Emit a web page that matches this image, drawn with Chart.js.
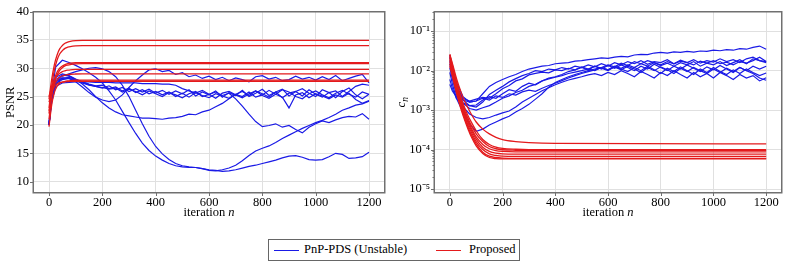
<!DOCTYPE html>
<html>
<head>
<meta charset="utf-8">
<script src="https://cdn.jsdelivr.net/npm/chart.js@4.4.0/dist/chart.umd.min.js"></script>
<style>
  body { margin:0; background:#fff; width:789px; height:265px; position:relative; overflow:hidden; font-family:"Liberation Serif", serif; color:#000; }
  #c1 { position:absolute; left:0; top:0; }
  #c2 { position:absolute; left:395px; top:0; }
  #legend { position:absolute; left:268px; top:239px; width:250px; height:20px; border:1px solid #666; font-size:12.5px; }
  #legend span { position:absolute; top:2px; white-space:nowrap; }
  #legend i { position:absolute; top:10px; width:25px; height:0; border-top:1.3px solid; }
</style>
</head>
<body>
<canvas id="c1" width="395" height="230"></canvas>
<canvas id="c2" width="394" height="230"></canvas>
<div id="legend">
  <i style="left:5px;border-color:#1a1ae6"></i><span style="left:35px">PnP-PDS (Unstable)</span>
  <i style="left:167px;border-color:#e41a1c"></i><span style="left:200px">Proposed</span>
</div>
<script>
// iteration grids
const iterN = [0,10,25,50,75,100,125,150,175,200,225,250,275,300,325,350,375,400,425,450,475,500,525,550,575,600,625,650,675,700,725,750,775,800,825,850,875,900,925,950,975,1000,1025,1050,1075,1100,1125,1150,1175,1200];
const iterRed = [0,10,20,30,40,50,60,70,80,100,125,150,175,200,250,300,400,1200];
const xTicks = [0,200,400,600,800,1000,1200];
const psnrTicks = [10,15,20,25,30,35,40];
const cnTicks = [1e-5,1e-4,1e-3,1e-2,1e-1];
const cnLabels = ['10⁻⁵','10⁻⁴','10⁻³','10⁻²','10⁻¹'];

// PSNR, PnP-PDS (unstable)
const psnrPnp = [
  [20,25.5,30.2,31.4,31.0,30.5,29.9,29.2,28.4,27.4,26.0,24.4,22.4,20.4,18.5,16.8,15.5,14.5,13.8,13.2,12.8,12.6,12.5,12.5,12.3,12.0,11.9,12.1,12.4,12.9,13.7,14.6,15.4,15.9,16.3,16.9,17.6,18.2,18.8,19.4,19.9,20.4,20.8,21.3,21.9,22.6,23.0,23.5,23.7,24.2],
  [20,24.5,27.5,28.6,29.0,29.4,29.7,30.0,30.1,29.9,29.4,28.5,27.0,25.0,22.6,20.2,18.0,16.2,14.9,13.9,13.2,12.8,12.6,12.5,12.3,12.1,12.0,11.8,11.9,12.1,12.4,12.7,12.9,13.2,13.5,13.8,14.2,14.5,14.6,14.3,13.9,13.8,13.9,14.4,15.0,14.8,14.1,14.2,14.4,15.2],
  [20,25,27.6,28.3,28.2,27.6,26.7,25.7,24.9,24.4,24.1,24.4,25.3,26.6,27.8,28.8,29.7,29.9,29.4,29.6,28.9,29.2,28.5,28.8,28.2,28.6,28.0,28.4,27.8,28.3,28.0,27.6,28.5,28.7,28.1,28.4,27.8,28.0,28.6,28.1,28.4,27.9,28.5,28.0,28.7,27.8,28.2,28.6,28.9,27.4],
  [20,24.8,27.3,28.2,28.4,28.0,27.2,26.2,25.0,23.9,23.0,22.3,21.8,21.6,21.4,21.2,21.2,21.1,21.0,21.2,21.3,21.5,21.9,21.8,22.3,22.6,23.2,23.8,24.6,25.4,25.9,25.2,26.0,25.5,24.9,25.8,26.3,25.1,25.9,26.4,25.6,25.0,26.2,25.7,24.8,25.9,26.5,25.3,24.6,25.4],
  [20,24,26.8,27.4,27.5,27.6,27.6,27.6,27.5,27.5,27.5,27.4,27.4,27.4,27.4,27.3,27.3,27.3,27.2,27.2,27.0,26.4,26.0,25.6,26.1,25.4,25.8,25.2,25.6,24.6,23.3,21.9,20.6,19.7,19.9,20.2,19.6,19.9,19.2,18.6,19.6,20.2,20.7,20.4,20.9,21.3,21.5,21.4,22.0,21.0],
  [20,25.2,28.0,28.8,28.6,28.0,27.4,27.0,26.8,26.5,26.9,26.2,26.6,25.9,26.4,25.8,26.3,25.6,26.1,25.4,26.0,25.5,26.2,25.1,25.8,25.3,26.0,24.9,25.7,25.2,26.1,25.0,25.6,26.3,25.2,25.8,24.8,25.6,25.9,25.1,26.2,25.4,24.9,25.7,26.0,25.0,25.9,26.8,27.2,27.0],
  [20,25.8,28.4,29.0,28.7,28.1,27.6,27.2,26.9,27.0,26.4,26.7,26.0,26.5,25.7,26.2,25.5,25.9,25.3,25.8,25.0,25.6,24.9,25.7,25.2,24.8,25.5,25.1,24.7,25.4,25.0,25.8,24.9,25.3,26.1,25.4,24.9,23.0,25.3,25.7,24.8,25.5,25.1,24.6,25.3,24.9,25.6,24.5,23.8,24.3],
  [20,24.6,27.2,28.0,28.2,27.9,27.5,27.1,26.8,26.6,26.3,26.5,25.8,26.3,25.9,25.3,26.0,25.5,25.0,25.7,25.3,24.8,25.5,25.9,25.0,25.4,24.7,25.6,25.9,25.3,24.8,25.5,26.0,25.2,24.7,25.4,26.2,25.8,25.0,24.6,25.5,26.0,25.3,24.8,25.6,26.1,25.4,24.9,25.8,25.4]
];

// PSNR, proposed
const psnrProp = [
  [24.5,28.0,30.6,32.3,33.4,34.0,34.4,34.6,34.75,34.87,34.9,34.9,34.9,34.9,34.9,34.9,34.9,34.9],
  [23.0,26.8,29.6,31.4,32.5,33.1,33.5,33.7,33.82,33.95,34.0,34.0,34.0,34.0,34.0,34.0,34.0,34.0],
  [22.0,25.8,28.0,29.3,30.0,30.4,30.65,30.8,30.88,30.96,31.0,31.0,31.0,31.0,31.0,31.0,31.0,31.0],
  [21.0,25.0,27.4,28.8,29.6,30.1,30.4,30.55,30.65,30.75,30.8,30.8,30.8,30.8,30.8,30.8,30.8,30.8],
  [25.0,26.7,27.9,28.7,29.1,29.4,29.55,29.65,29.72,29.78,29.8,29.8,29.8,29.8,29.8,29.8,29.8,29.8],
  [22.5,25.5,27.1,27.9,28.4,28.65,28.8,28.88,28.94,28.98,29.0,29.0,29.0,29.0,29.0,29.0,29.0,29.0],
  [19.7,23.5,25.7,26.8,27.3,27.55,27.7,27.78,27.83,27.88,27.9,27.9,27.9,27.9,27.9,27.9,27.9,27.9],
  [24.0,25.7,26.7,27.2,27.45,27.56,27.62,27.66,27.68,27.7,27.7,27.7,27.7,27.7,27.7,27.7,27.7,27.7]
];

// c_n, PnP-PDS (unstable)
const cnPnp = [
  [2.5e-2,1.2e-2,5e-3,2.2e-3,1.6e-3,1.7e-3,2.6e-3,4e-3,5e-3,6e-3,7e-3,8e-3,9.5e-3,1.1e-2,1.2e-2,1.3e-2,1.35e-2,1.5e-2,1.55e-2,1.6e-2,1.75e-2,1.8e-2,1.9e-2,2.0e-2,2.1e-2,2.05e-2,2.2e-2,2.3e-2,2.25e-2,2.5e-2,2.6e-2,2.55e-2,2.8e-2,2.9e-2,2.8e-2,3.0e-2,2.9e-2,3.1e-2,2.95e-2,3.15e-2,3.1e-2,3.3e-2,3.2e-2,3.4e-2,3.3e-2,3.6e-2,3.5e-2,3.9e-2,4.2e-2,3.5e-2],
  [2.2e-2,1e-2,4e-3,1.8e-3,1.3e-3,1.2e-3,1.6e-3,2.5e-3,3.2e-3,4.0e-3,5.2e-3,6.3e-3,7.5e-3,8.5e-3,1.0e-2,9.5e-3,1.1e-2,1.05e-2,1.2e-2,1.1e-2,1.3e-2,1.2e-2,1.4e-2,1.25e-2,1.5e-2,1.3e-2,1.6e-2,1.4e-2,1.7e-2,1.5e-2,1.8e-2,1.45e-2,1.7e-2,1.6e-2,1.9e-2,1.5e-2,1.75e-2,1.6e-2,1.9e-2,1.55e-2,1.8e-2,1.65e-2,2.0e-2,1.7e-2,1.9e-2,1.6e-2,2.0e-2,2.2e-2,1.8e-2,1.6e-2],
  [1.8e-2,9e-3,4e-3,2e-3,1.7e-3,1.9e-3,2.1e-3,2.0e-3,2.6e-3,3.5e-3,4.2e-3,5.5e-3,6.2e-3,7.8e-3,8.5e-3,9.2e-3,8.8e-3,1.05e-2,1.0e-2,1.15e-2,1.05e-2,1.25e-2,1.1e-2,1.3e-2,1.1e-2,1.35e-2,1.15e-2,1.4e-2,1.2e-2,1.0e-2,1.3e-2,1.1e-2,1.45e-2,1.2e-2,1.0e-2,1.3e-2,1.1e-2,1.4e-2,1.15e-2,9.5e-3,1.25e-2,1.05e-2,1.35e-2,1.1e-2,9e-3,1.2e-2,1.0e-2,1.3e-2,1.1e-2,1.3e-2],
  [1.5e-2,7e-3,3e-3,1.5e-3,1.1e-3,1.0e-3,1.15e-3,1.3e-3,1.6e-3,2.0e-3,2.3e-3,2.8e-3,3.2e-3,4.0e-3,4.5e-3,5.5e-3,6.2e-3,6.8e-3,7.5e-3,8.5e-3,9.2e-3,1.0e-2,1.1e-2,1.0e-2,1.2e-2,1.05e-2,1.25e-2,1.1e-2,9.5e-3,1.2e-2,1.0e-2,1.3e-2,1.05e-2,8.5e-3,1.15e-2,9.5e-3,1.25e-2,1.0e-2,8e-3,1.1e-2,9e-3,1.2e-2,9.5e-3,8e-3,1.05e-2,8.5e-3,1.1e-2,9e-3,7.5e-3,8.7e-3],
  [1.2e-2,6e-3,2.5e-3,1.2e-3,8e-4,6.5e-4,6e-4,6.5e-4,7.5e-4,8.5e-4,9.5e-4,1.2e-3,1.6e-3,2.0e-3,2.5e-3,3.1e-3,3.7e-3,4.4e-3,5.1e-3,5.8e-3,6.4e-3,7e-3,7.8e-3,8.4e-3,7.5e-3,9e-3,8e-3,1.0e-2,8.5e-3,7e-3,9.5e-3,8e-3,6.5e-3,9e-3,7.5e-3,1.0e-2,8e-3,6.5e-3,9e-3,7e-3,8.5e-3,6.5e-3,9e-3,7.5e-3,6e-3,8e-3,6.5e-3,7.5e-3,5.5e-3,6.6e-3],
  [9e-3,4.5e-3,2e-3,9e-4,4.5e-4,2.9e-4,3.3e-4,4.2e-4,5e-4,6e-4,7e-4,9e-4,1.1e-3,1.4e-3,1.9e-3,2.6e-3,3.8e-3,5e-3,6e-3,7e-3,8e-3,9e-3,1.0e-2,1.1e-2,1.2e-2,1.05e-2,1.3e-2,1.15e-2,1.4e-2,1.2e-2,1.5e-2,1.3e-2,1.6e-2,1.35e-2,1.55e-2,1.3e-2,1.6e-2,1.4e-2,1.7e-2,1.3e-2,1.55e-2,1.4e-2,1.7e-2,1.35e-2,1.6e-2,1.9e-2,1.5e-2,2.0e-2,1.8e-2,1.7e-2],
  [6e-3,3.5e-3,2e-3,1.5e-3,1.3e-3,1.35e-3,1.8e-3,2.2e-3,2.0e-3,2.6e-3,3.3e-3,3.0e-3,4.0e-3,4.8e-3,4.4e-3,5.5e-3,6.5e-3,7.0e-3,8e-3,9.5e-3,1.05e-2,1.2e-2,1.05e-2,1.3e-2,1.15e-2,1.0e-2,1.25e-2,1.05e-2,1.3e-2,1.1e-2,9e-3,1.2e-2,1.0e-2,1.25e-2,1.05e-2,8.5e-3,1.15e-2,9.5e-3,1.2e-2,1.0e-2,8.5e-3,1.1e-2,9e-3,1.15e-2,9.5e-3,1.2e-2,1.0e-2,8.5e-3,6.5e-3,5.7e-3],
  [4.5e-3,3e-3,2.2e-3,1.8e-3,1.6e-3,1.7e-3,2.0e-3,1.8e-3,2.3e-3,2.1e-3,2.6e-3,2.4e-3,2.9e-3,3.2e-3,3.0e-3,3.6e-3,4.2e-3,4.8e-3,5.6e-3,6.5e-3,7.5e-3,8.5e-3,9.5e-3,1.05e-2,1.2e-2,1.4e-2,1.25e-2,1.55e-2,1.35e-2,1.7e-2,1.5e-2,1.8e-2,1.6e-2,1.4e-2,1.7e-2,1.5e-2,1.85e-2,1.6e-2,1.4e-2,1.75e-2,1.55e-2,1.8e-2,1.5e-2,1.65e-2,1.4e-2,1.7e-2,1.55e-2,1.8e-2,2.2e-2,1.7e-2]
];

// c_n, proposed
const cnProp = [
  [2.6e-2,1.5e-2,8.5e-3,5e-3,3.2e-3,2.1e-3,1.5e-3,1.1e-3,8.2e-4,5e-4,3.3e-4,2.5e-4,2.05e-4,1.8e-4,1.6e-4,1.5e-4,1.43e-4,1.4e-4],
  [2.5e-2,1.35e-2,7.2e-3,4e-3,2.4e-3,1.5e-3,1e-3,7e-4,5.2e-4,3e-4,1.8e-4,1.35e-4,1.15e-4,1.07e-4,1.02e-4,1.0e-4,1.0e-4,1.0e-4],
  [2.3e-2,1.2e-2,6.5e-3,3.6e-3,2.1e-3,1.3e-3,8.5e-4,6e-4,4.3e-4,2.5e-4,1.6e-4,1.2e-4,1.05e-4,9.9e-5,9.6e-5,9.5e-5,9.5e-5,9.5e-5],
  [2.1e-2,1.1e-2,5.8e-3,3.2e-3,1.9e-3,1.15e-3,7.5e-4,5.2e-4,3.7e-4,2.1e-4,1.35e-4,1.05e-4,9.4e-5,9e-5,8.8e-5,8.8e-5,8.8e-5,8.8e-5],
  [1.9e-2,1e-2,5.2e-3,2.9e-3,1.7e-3,1.05e-3,6.8e-4,4.6e-4,3.3e-4,1.85e-4,1.15e-4,9e-5,8.1e-5,7.8e-5,7.7e-5,7.7e-5,7.7e-5,7.7e-5],
  [1.7e-2,9e-3,4.7e-3,2.6e-3,1.5e-3,9.2e-4,6e-4,4e-4,2.9e-4,1.6e-4,1e-4,7.8e-5,7.1e-5,6.8e-5,6.7e-5,6.7e-5,6.7e-5,6.7e-5],
  [1.5e-2,8e-3,4.2e-3,2.3e-3,1.35e-3,8.2e-4,5.3e-4,3.6e-4,2.5e-4,1.4e-4,8.6e-5,6.8e-5,6.3e-5,6.1e-5,6e-5,6e-5,6e-5,6e-5],
  [1.3e-2,7e-3,3.7e-3,2.1e-3,1.2e-3,7.4e-4,4.8e-4,3.2e-4,2.2e-4,1.25e-4,8e-5,6.3e-5,5.9e-5,5.8e-5,5.8e-5,5.8e-5,5.8e-5,5.8e-5]
];

// minor ticks on the log axis
const cnMinor = [2e-5,3e-5,4e-5,5e-5,6e-5,7e-5,8e-5,9e-5,2e-4,3e-4,4e-4,5e-4,6e-4,7e-4,8e-4,9e-4,2e-3,3e-3,4e-3,5e-3,6e-3,7e-3,8e-3,9e-3,2e-2,3e-2,4e-2,5e-2,6e-2,7e-2,8e-2,9e-2,2e-1,3e-1];

const FONT = '"Liberation Serif", "Times New Roman", serif';
const FSIZE = 12.5;
const BLUE = '#1a1ae6';
const RED = '#e41a1c';
const GRID = '#e0e0e0';

function toPts(xs, ys) {
  return xs.map((x, i) => ({ x: x, y: ys[i] }));
}

function makeSets(blueRows, redRows) {
  // red first so it is drawn on top
  const sets = [];
  redRows.forEach(r => sets.push({ data: toPts(iterRed, r), borderColor: RED, borderWidth: 1.3, pointRadius: 0, cubicInterpolationMode: 'monotone' }));
  blueRows.forEach(r => sets.push({ data: toPts(iterN, r), borderColor: BLUE, borderWidth: 1.2, pointRadius: 0, tension: 0 }));
  return sets;
}

// frame, outward tick marks and the mixed-style axis titles
const framePlugin = {
  id: 'frame',
  afterDraw(chart, args, opts) {
    const a = chart.chartArea, ctx = chart.ctx;
    const sx = chart.scales.x, sy = chart.scales.y;
    ctx.save();
    ctx.strokeStyle = '#707070';
    ctx.lineWidth = 1;
    ctx.beginPath();
    sx.ticks.forEach(t => {
      const px = Math.round(sx.getPixelForValue(t.value)) + 0.5;
      ctx.moveTo(px, a.bottom); ctx.lineTo(px, a.bottom + 3);
    });
    sy.ticks.forEach(t => {
      const py = Math.round(sy.getPixelForValue(t.value)) + 0.5;
      ctx.moveTo(a.left, py); ctx.lineTo(a.left - 3, py);
    });
    if (opts.cn) {
      cnMinor.forEach(v => {
        const py = Math.round(sy.getPixelForValue(v)) + 0.5;
        if (py > a.top && py < a.bottom) { ctx.moveTo(a.left, py); ctx.lineTo(a.left - 1.5, py); }
      });
    }
    ctx.stroke();
    ctx.lineWidth = 1.5;
    ctx.strokeRect(a.left + 0.25, a.top + 0.25, a.right - a.left - 0.5, a.bottom - a.top - 0.5);

    ctx.fillStyle = '#000';
    ctx.textBaseline = 'middle';
    ctx.textAlign = 'left';
    const up = FSIZE + 'px ' + FONT;
    const it = 'italic ' + up;
    ctx.font = up;
    const w1 = ctx.measureText('iteration ').width;
    ctx.font = it;
    const w2 = ctx.measureText('n').width;
    const x0 = (a.left + a.right) / 2 - (w1 + w2) / 2;
    ctx.font = up;
    ctx.fillText('iteration ', x0, 213);
    ctx.font = it;
    ctx.fillText('n', x0 + w1, 213);

    if (opts.cn) {
      const sub = 'italic 9.5px ' + FONT;
      ctx.translate(7, (a.top + a.bottom) / 2);
      ctx.rotate(-Math.PI / 2);
      ctx.font = it;
      const wc = ctx.measureText('c').width;
      ctx.font = sub;
      const wn = ctx.measureText('n').width;
      ctx.font = it;
      ctx.fillText('c', -(wc + wn) / 2, 0);
      ctx.font = sub;
      ctx.fillText('n', -(wc + wn) / 2 + wc, 3);
    }
    ctx.restore();
  }
};

function xAxis() {
  return {
    type: 'linear', min: -60, max: 1260,
    afterBuildTicks: s => { s.ticks = xTicks.map(v => ({ value: v })); },
    afterFit: s => { s.height = 37; },
    grid: { color: GRID, drawTicks: false },
    border: { display: false },
    ticks: { color: '#000', font: { family: FONT, size: FSIZE }, padding: 2, maxRotation: 0, callback: v => String(v) }
  };
}

new Chart(document.getElementById('c1'), {
  type: 'line',
  data: { datasets: makeSets(psnrPnp, psnrProp) },
  options: {
    responsive: false, animation: false, events: [],
    layout: { padding: { top: 9, right: 10, left: 0, bottom: 0 } },
    plugins: { legend: { display: false }, tooltip: { enabled: false }, frame: { cn: false } },
    scales: {
      x: xAxis(),
      y: {
        type: 'linear', min: 8, max: 40,
        afterBuildTicks: s => { s.ticks = psnrTicks.map(v => ({ value: v })); },
        afterFit: s => { s.width = 33; },
        grid: { color: GRID, drawTicks: false },
        border: { display: false },
        ticks: { color: '#000', font: { family: FONT, size: FSIZE }, padding: 4, callback: v => String(v) },
        title: { display: true, text: 'PSNR', color: '#000', font: { family: FONT, size: FSIZE }, padding: { top: 3, bottom: 0 } }
      }
    }
  },
  plugins: [framePlugin]
});

new Chart(document.getElementById('c2'), {
  type: 'line',
  data: { datasets: makeSets(cnPnp, cnProp) },
  options: {
    responsive: false, animation: false, events: [],
    layout: { padding: { top: 9, right: 7, left: 0, bottom: 0 } },
    plugins: { legend: { display: false }, tooltip: { enabled: false }, frame: { cn: true } },
    scales: {
      x: xAxis(),
      y: {
        type: 'logarithmic', min: 7.94e-6, max: 0.316,
        afterBuildTicks: s => { s.ticks = cnTicks.map(v => ({ value: v })); },
        afterFit: s => { s.width = 39; },
        grid: { color: GRID, drawTicks: false },
        border: { display: false },
        ticks: { color: '#000', font: { family: FONT, size: FSIZE }, padding: 4, callback: (v, i) => cnLabels[i] }
      }
    }
  },
  plugins: [framePlugin]
});
</script>
</body>
</html>
